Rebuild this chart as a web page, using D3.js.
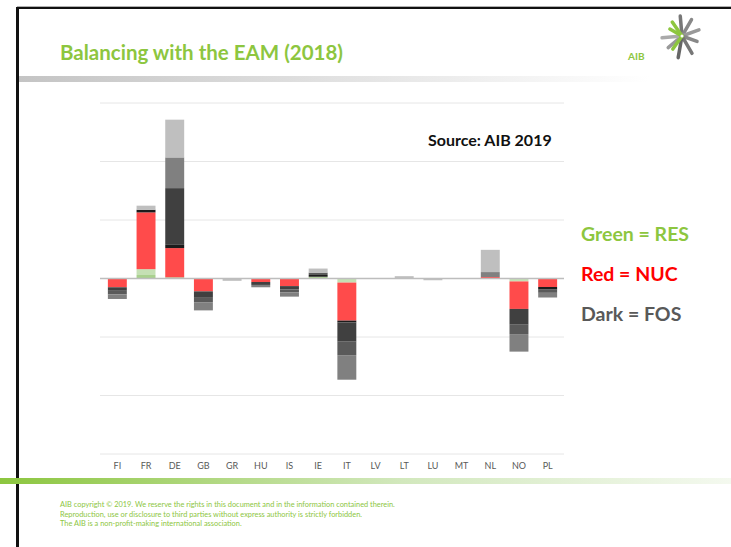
<!DOCTYPE html>
<html>
<head>
<meta charset="utf-8">
<script src="https://cdn.jsdelivr.net/npm/d3@7"></script>
<style>
  body { margin: 0; background: #fff; }
  svg { display: block; font-family: Lato, "Open Sans", sans-serif; }
</style>
</head>
<body>
<svg id="chart" width="731" height="547"></svg>
<script>
// countries on the x axis
var countries = ['FI', 'FR', 'DE', 'GB', 'GR', 'HU', 'IS', 'IE', 'IT', 'LV', 'LT', 'LU', 'MT', 'NL', 'NO', 'PL'];

// stacked segments per country (grid step = 10)
var res    = [0,    0.6,  0.2,  0,    0,    0,    0,     0.3, 0,    0, 0,   0,    0, 0,    0,    0];
var resLt  = [0,    1.0,  0,    0,    0,    0,    0,     0,   -0.7, 0, 0,   0,    0, 0,    -0.5, 0];
var nuc    = [-1.5, 9.7,  5.0,  -2.2, 0,    -0.6, -1.3,  0,   -6.5, 0, 0,   0,    0, 0.25, -4.7, -1.45];
var fosBlk = [0,    0.45, 0.55, 0,    0,    0,    0,     0.3, -0.3, 0, 0,   0,    0, 0,    0,    -0.45];
var fosDk  = [-0.6, 0,    9.7,  -1.1, 0,    -0.5, -0.55, 0,   -3.3, 0, 0,   0,    0, 0,    -2.7, 0];
var fosMd  = [-0.6, 0,    0,    -0.75,0,    0,    -0.5,  0.4, -2.3, 0, 0,   0,    0, 0,    -1.6, -0.55];
var fosGr  = [-0.8, 0,    5.25, -1.4, 0,    -0.4, -0.75, 0,   -4.2, 0, 0,   0,    0, 0.85, -3.0, -0.8];
var fosLt  = [0,    0.7,  6.45, 0,    -0.4, 0,    0,     0.7, 0,    0, 0.4, -0.3, 0, 3.8,  0,    0];

var yTicks = [-30, -20, -10, 0, 10, 20, 30];

var keys = ['res', 'resLt', 'nuc', 'fosBlk', 'fosDk', 'fosMd', 'fosGr', 'fosLt'];
var colors = {
    res: '#a9d18e', resLt: '#c5e0b4', nuc: '#ff4b4b', fosBlk: '#1c1c1c',
    fosDk: '#404040', fosMd: '#5a5a5a', fosGr: '#808080', fosLt: '#bfbfbf'
};

var table = countries.map(function(c, i) {
    return {
        country: c, res: res[i], resLt: resLt[i], nuc: nuc[i], fosBlk: fosBlk[i],
        fosDk: fosDk[i], fosMd: fosMd[i], fosGr: fosGr[i], fosLt: fosLt[i]
    };
});

var svg = d3.select('#chart');

// slide frame
svg.append('rect').attr('x', 17).attr('y', 6).attr('width', 714).attr('height', 2).attr('fill', '#b0b0b0');
svg.append('rect').attr('x', 16).attr('y', 7).attr('width', 715).attr('height', 2).attr('fill', '#111');
svg.append('rect').attr('x', 16).attr('y', 7).attr('width', 3).attr('height', 540).attr('fill', '#111');

var defs = svg.append('defs');
var g1 = defs.append('linearGradient').attr('id', 'headBand');
g1.append('stop').attr('offset', '0%').attr('stop-color', '#c4c4c4');
g1.append('stop').attr('offset', '100%').attr('stop-color', '#ffffff');
var g2 = defs.append('linearGradient').attr('id', 'footBand');
g2.append('stop').attr('offset', '0%').attr('stop-color', '#8cc63f');
g2.append('stop').attr('offset', '55%').attr('stop-color', '#d2e8bd');
g2.append('stop').attr('offset', '100%').attr('stop-color', '#f4f9ef');

svg.append('rect').attr('x', 19).attr('y', 76).attr('width', 630).attr('height', 6).attr('fill', 'url(#headBand)');
svg.append('rect').attr('x', 0).attr('y', 478).attr('width', 731).attr('height', 6).attr('fill', 'url(#footBand)');

svg.append('text').attr('x', 60).attr('y', 60)
    .attr('font-size', 20.5).attr('font-weight', 'bold').attr('fill', '#8dc63f')
    .text('Balancing with the EAM (2018)');

// logo
var logo = svg.append('g').attr('transform', 'translate(682,36)');
var spokes = [[-95, 20, '#777'], [-60, 19, '#888'], [-20, 18, '#999'], [20, 16, '#888'], [60, 20, '#777'],
              [100, 22, '#666'], [140, 18, '#999'], [175, 20, '#aaa'], [210, 14, '#8dc63f'], [235, 17, '#8dc63f'], [125, 16, '#8dc63f']];
spokes.forEach(function(s) {
    var a = s[0] * Math.PI / 180;
    logo.append('line').attr('x1', 0).attr('y1', 0)
        .attr('x2', Math.cos(a) * s[1]).attr('y2', Math.sin(a) * s[1])
        .attr('stroke', s[2]).attr('stroke-width', 3.5).attr('stroke-linecap', 'round');
});
logo.append('circle').attr('r', 1.5).attr('fill', '#fff');
svg.append('text').attr('x', 628).attr('y', 60).attr('font-size', 10).attr('font-weight', 'bold')
    .attr('fill', '#8dc63f').text('AIB');

// chart
var x = d3.scaleBand().domain(countries).range([103, 562]).paddingInner(0.34).paddingOuter(0.17);
var y = d3.scaleLinear().domain([-30, 30]).range([454, 103]);

svg.append('g').selectAll('line').data(yTicks.filter(function(t) { return t !== 0; }))
    .join('line')
    .attr('x1', 100).attr('x2', 564)
    .attr('y1', function(d) { return y(d); }).attr('y2', function(d) { return y(d); })
    .attr('stroke', '#e6e6e6').attr('stroke-width', 1);

var series = d3.stack().keys(keys).offset(d3.stackOffsetDiverging)(table);

svg.append('g').selectAll('g').data(series).join('g')
    .attr('fill', function(d) { return colors[d.key]; })
    .selectAll('rect').data(function(d) { return d; }).join('rect')
    .attr('x', function(d) { return x(d.data.country); })
    .attr('width', x.bandwidth())
    .attr('y', function(d) { return y(Math.max(d[0], d[1])); })
    .attr('height', function(d) { return Math.abs(y(d[0]) - y(d[1])); });

svg.append('line').attr('x1', 100).attr('x2', 564).attr('y1', y(0)).attr('y2', y(0))
    .attr('stroke', '#bdbdbd').attr('stroke-width', 1.5);

var xAxis = svg.append('g').attr('transform', 'translate(0,' + 454 + ')')
    .call(d3.axisBottom(x).tickSize(0).tickPadding(9));
xAxis.select('.domain').remove();
xAxis.selectAll('text').attr('font-size', 9).attr('fill', '#595959')
    .attr('font-family', 'Lato, "Open Sans", sans-serif');

svg.append('text').attr('x', 428).attr('y', 146).attr('font-size', 16).attr('font-weight', 'bold')
    .attr('fill', '#111').text('Source: AIB 2019');

var legend = [['Green = RES', '#8dc63f'], ['Red = NUC', '#ff0000'], ['Dark = FOS', '#595959']];
svg.append('g').selectAll('text').data(legend).join('text')
    .attr('x', 581).attr('y', function(d, i) { return 241 + i * 40; })
    .attr('font-size', 19.5).attr('font-weight', 'bold')
    .attr('fill', function(d) { return d[1]; })
    .text(function(d) { return d[0]; });

var foot = ['AIB copyright \u00a9 2019. We reserve the rights in this document and in the information contained therein.',
            'Reproduction, use or disclosure to third parties without express authority is strictly forbidden.',
            'The AIB is a non-profit-making international association.'];
svg.append('g').selectAll('text').data(foot).join('text')
    .attr('x', 60).attr('y', function(d, i) { return 507 + i * 9.5; })
    .attr('font-size', 7.4).attr('fill', '#8dc63f')
    .text(function(d) { return d; });
</script>
</body>
</html>
